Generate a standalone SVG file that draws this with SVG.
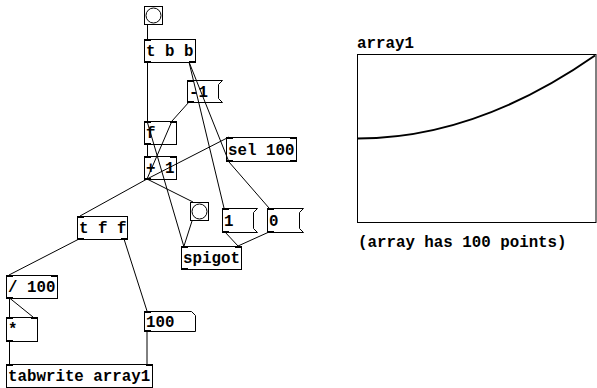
<svg xmlns="http://www.w3.org/2000/svg" width="597" height="388" viewBox="0 0 597 388">
<style>
.box{fill:none;stroke:#000;stroke-width:1}
.io{fill:#000}
.t{font-family:"Liberation Mono","DejaVu Sans Mono",monospace;font-weight:bold;font-size:15.8px;fill:#000}
.c{stroke:#000;stroke-width:1;fill:none}
</style>
<rect width="597" height="388" fill="#fff"/>
<g id="connectors" class="c">
<line x1="147.5" y1="24" x2="147.5" y2="39"/>
<line x1="147.5" y1="62" x2="147.5" y2="121"/>
<line x1="189" y1="62" x2="224" y2="208"/>
<line x1="189" y1="62" x2="229" y2="162"/>
<line x1="189" y1="102" x2="172" y2="121"/>
<line x1="147.5" y1="144" x2="147.5" y2="156"/>
<line x1="147" y1="179" x2="172" y2="121"/>
<line x1="147" y1="179" x2="229" y2="137"/>
<line x1="147" y1="179" x2="80" y2="216"/>
<line x1="147" y1="179" x2="193" y2="202"/>
<line x1="229" y1="162" x2="269" y2="208"/>
<line x1="192" y1="221" x2="184" y2="246"/>
<line x1="147" y1="121" x2="184" y2="247"/>
<line x1="225" y1="232" x2="238" y2="246"/>
<line x1="269" y1="232" x2="238" y2="246"/>
<line x1="79" y1="239" x2="9" y2="275"/>
<line x1="124" y1="239" x2="147" y2="311"/>
<line x1="9.5" y1="298" x2="9.5" y2="317"/>
<line x1="9.5" y1="298" x2="33" y2="317"/>
<line x1="9.5" y1="341" x2="9.5" y2="364"/>
<line x1="147" y1="331" x2="147" y2="364"/>
</g>
<g id="bang1">
<rect class="box" x="144.5" y="6.5" width="18" height="18" stroke-width="1.5"/>
<circle class="box" cx="153.5" cy="15.5" r="7.5"/>
</g>
<g id="tbb">
<rect class="box" x="144.5" y="39.5" width="51" height="23"/>
<rect class="io" x="144" y="39" width="7" height="2"/>
<rect class="io" x="144" y="61" width="7" height="2"/>
<rect class="io" x="189" y="61" width="7" height="2"/>
<text class="t" x="146" y="56">t b b</text>
</g>
<g id="msg_minus1">
<path class="box" d="M187.5,80.5 H222.5 L218.5,84.5 V98.5 L222.5,102.5 H187.5 Z"/>
<rect class="io" x="187" y="80" width="7" height="2"/>
<rect class="io" x="187" y="101" width="7" height="2"/>
<text class="t" x="189" y="97">-1</text>
</g>
<g id="f">
<rect class="box" x="144.5" y="121.5" width="32" height="23"/>
<rect class="io" x="144" y="121" width="7" height="2"/>
<rect class="io" x="170" y="121" width="7" height="2"/>
<rect class="io" x="144" y="143" width="7" height="2"/>
<text class="t" x="146" y="138">f</text>
</g>
<g id="plus1">
<rect class="box" x="144.5" y="156.5" width="32" height="23"/>
<rect class="io" x="144" y="156" width="7" height="2"/>
<rect class="io" x="170" y="156" width="7" height="2"/>
<rect class="io" x="144" y="178" width="7" height="2"/>
<text class="t" x="146" y="173">+ 1</text>
</g>
<g id="sel100">
<rect class="box" x="226.5" y="137.5" width="70" height="24"/>
<rect class="io" x="226" y="137" width="7" height="2"/>
<rect class="io" x="290" y="137" width="7" height="2"/>
<rect class="io" x="226" y="160" width="7" height="2"/>
<rect class="io" x="290" y="160" width="7" height="2"/>
<text class="t" x="228" y="155">sel 100</text>
</g>
<g id="tff">
<rect class="box" x="77.5" y="216.5" width="50" height="23"/>
<rect class="io" x="77" y="216" width="7" height="2"/>
<rect class="io" x="77" y="238" width="7" height="2"/>
<rect class="io" x="121" y="238" width="7" height="2"/>
<text class="t" x="79" y="233">t f f</text>
</g>
<g id="bang2">
<rect class="box" x="190.5" y="202.5" width="18" height="18" stroke-width="1.5"/>
<circle class="box" cx="199.5" cy="211.5" r="7.5"/>
</g>
<g id="msg1">
<path class="box" d="M222.5,208.5 H257.5 L253.5,212.5 V228.5 L257.5,232.5 H222.5 Z"/>
<rect class="io" x="222" y="208" width="7" height="2"/>
<rect class="io" x="222" y="231" width="7" height="2"/>
<text class="t" x="224" y="226">1</text>
</g>
<g id="msg0">
<path class="box" d="M267.5,208.5 H303.5 L299.5,212.5 V228.5 L303.5,232.5 H267.5 Z"/>
<rect class="io" x="267" y="208" width="7" height="2"/>
<rect class="io" x="267" y="231" width="7" height="2"/>
<text class="t" x="269" y="226">0</text>
</g>
<g id="spigot">
<rect class="box" x="181.5" y="246.5" width="60" height="23"/>
<rect class="io" x="181" y="246" width="7" height="2"/>
<rect class="io" x="235" y="246" width="7" height="2"/>
<rect class="io" x="181" y="268" width="7" height="2"/>
<text class="t" x="183" y="263">spigot</text>
</g>
<g id="div100">
<rect class="box" x="6.5" y="275.5" width="51" height="23"/>
<rect class="io" x="6" y="275" width="7" height="2"/>
<rect class="io" x="51" y="275" width="7" height="2"/>
<rect class="io" x="6" y="297" width="7" height="2"/>
<text class="t" x="8" y="292">/ 100</text>
</g>
<g id="mul">
<rect class="box" x="6.5" y="317.5" width="31" height="24"/>
<rect class="io" x="6" y="317" width="7" height="2"/>
<rect class="io" x="31" y="317" width="7" height="2"/>
<rect class="io" x="6" y="340" width="7" height="2"/>
<text class="t" x="8" y="334">*</text>
</g>
<g id="num100">
<path class="box" d="M144.5,311.5 H191.5 L195.5,315.5 V331.5 H144.5 Z"/>
<rect class="io" x="144" y="311" width="7" height="2"/>
<rect class="io" x="144" y="330" width="7" height="2"/>
<text class="t" x="146" y="327">100</text>
</g>
<g id="tabwrite">
<rect class="box" x="6.5" y="364.5" width="146" height="23"/>
<rect class="io" x="6" y="364" width="7" height="2"/>
<rect class="io" x="146" y="364" width="7" height="2"/>
<text class="t" x="8" y="381">tabwrite array1</text>
</g>
<g id="array1">
<text class="t" x="357" y="48">array1</text>
<rect class="box" x="357.5" y="54.5" width="238.5" height="168"/>
<path d="M357.5,138.5 Q476,138.5 595,55.5" fill="none" stroke="#000" stroke-width="2"/>
</g>
<g id="comment">
<text class="t" x="358" y="247">(array has 100 points)</text>
</g>
</svg>
